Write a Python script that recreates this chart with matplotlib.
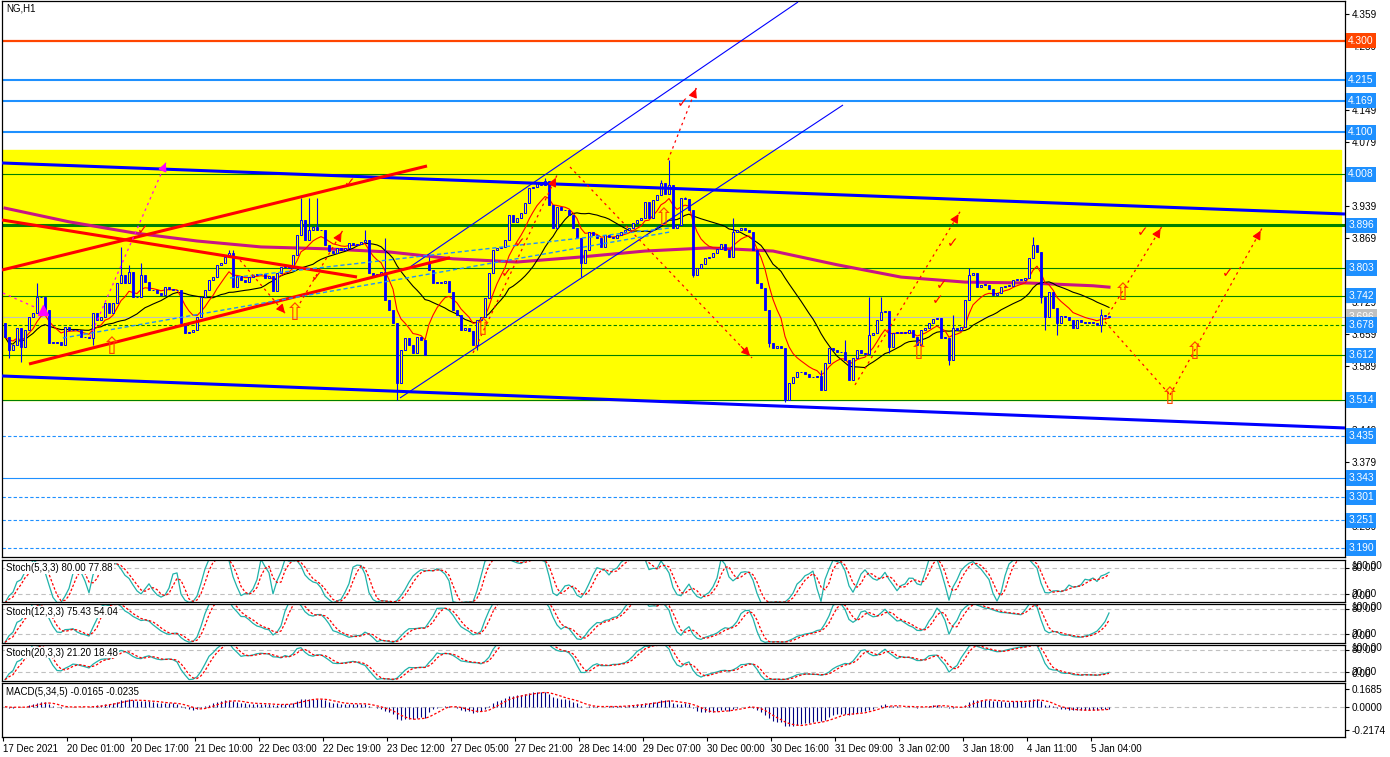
import numpy as np
import pandas as pd
import matplotlib
matplotlib.use("Agg")
import matplotlib.pyplot as plt
from matplotlib.patches import Rectangle

plt.rcParams['font.family'] = ['Liberation Sans', 'DejaVu Sans']

W, H = 1390, 757

# ---- price data (NG, H1) ----
close = [
    3.652, 3.623, 3.634, 3.672, 3.630, 3.667, 3.696, 3.704, 3.739, 3.739,
    3.711, 3.639, 3.639, 3.641, 3.634, 3.674, 3.667, 3.667, 3.667, 3.652,
    3.652, 3.650, 3.704, 3.689, 3.696, 3.726, 3.704, 3.726, 3.770, 3.788,
    3.770, 3.794, 3.739, 3.739, 3.788, 3.772, 3.755, 3.755, 3.748, 3.744,
    3.761, 3.757, 3.755, 3.755, 3.683, 3.661, 3.663, 3.667, 3.696, 3.739,
    3.755, 3.777, 3.783, 3.810, 3.814, 3.827, 3.836, 3.761, 3.785, 3.777,
    3.772, 3.783, 3.788, 3.790, 3.790, 3.781, 3.785, 3.753, 3.792, 3.805,
    3.810, 3.803, 3.831, 3.875, 3.908, 3.864, 3.886, 3.893, 3.886, 3.886,
    3.853, 3.840, 3.836, 3.847, 3.842, 3.847, 3.858, 3.853, 3.855, 3.860,
    3.864, 3.792, 3.785, 3.790, 3.794, 3.733, 3.711, 3.683, 3.551, 3.623,
    3.650, 3.634, 3.617, 3.652, 3.645, 3.612, 3.799, 3.770, 3.772, 3.770,
    3.774, 3.750, 3.711, 3.700, 3.667, 3.672, 3.665, 3.634, 3.689, 3.696,
    3.737, 3.792, 3.842, 3.847, 3.849, 3.864, 3.919, 3.904, 3.912, 3.923,
    3.945, 3.978, 3.980, 3.989, 3.985, 3.993, 3.941, 3.891, 3.936, 3.930,
    3.930, 3.919, 3.891, 3.869, 3.814, 3.842, 3.882, 3.875, 3.869, 3.849,
    3.875, 3.871, 3.869, 3.875, 3.882, 3.886, 3.891, 3.901, 3.908, 3.912,
    3.947, 3.912, 3.952, 3.963, 3.989, 3.965, 3.985, 3.891, 3.897, 3.956,
    3.954, 3.930, 3.788, 3.803, 3.812, 3.825, 3.827, 3.836, 3.845, 3.855,
    3.842, 3.827, 3.882, 3.886, 3.891, 3.886, 3.882, 3.842, 3.770, 3.759,
    3.711, 3.639, 3.628, 3.632, 3.628, 3.514, 3.551, 3.564, 3.575, 3.575,
    3.571, 3.564, 3.564, 3.566, 3.536, 3.595, 3.628, 3.623, 3.619, 3.619,
    3.601, 3.558, 3.606, 3.623, 3.617, 3.615, 3.656, 3.661, 3.689, 3.707,
    3.709, 3.630, 3.661, 3.661, 3.661, 3.661, 3.667, 3.652, 3.634, 3.667,
    3.672, 3.683, 3.691, 3.693, 3.650, 3.650, 3.601, 3.672, 3.667, 3.674,
    3.733, 3.788, 3.792, 3.761, 3.766, 3.766, 3.757, 3.744, 3.748, 3.761,
    3.764, 3.764, 3.777, 3.777, 3.777, 3.781, 3.825, 3.853, 3.838, 3.739,
    3.696, 3.750, 3.715, 3.683, 3.698, 3.696, 3.689, 3.672, 3.689, 3.685,
    3.683, 3.683, 3.683, 3.678, 3.700, 3.698, 3.696,
]
first_open = 3.683
open_gaps = {106: 3.815}
wick_high = {8: 3.770, 29: 3.849, 31: 3.810, 34: 3.814, 56: 3.842, 57: 3.842,
             74: 3.956, 76: 3.956, 78: 3.956, 90: 3.886, 95: 3.869, 106: 3.827,
             135: 3.999, 164: 3.996, 166: 4.039, 170: 3.958, 182: 3.912,
             204: 3.580, 210: 3.645, 216: 3.739, 219: 3.739, 237: 3.700,
             241: 3.803, 257: 3.871, 274: 3.713}
wick_low = {1: 3.606, 4: 3.597, 22: 3.634, 98: 3.514, 118: 3.623, 144: 3.783,
            172: 3.783, 188: 3.770, 191: 3.630, 195: 3.510, 221: 3.617,
            236: 3.590, 259: 3.726, 260: 3.667, 263: 3.656, 274: 3.663}

# slow (magenta) moving average, sampled every 16 bars
ma_long_bars = [0, 16, 32, 48, 64, 80, 96, 112, 128, 144, 160, 176, 192, 208, 224, 240, 256, 272, 276]
ma_long = [3.934, 3.904, 3.880, 3.862, 3.849, 3.845, 3.838, 3.823, 3.816, 3.827,
           3.840, 3.847, 3.840, 3.810, 3.783, 3.772, 3.770, 3.764, 3.761]

# horizontal levels and zone
levels = [4.300, 4.215, 4.169, 4.100, 4.008, 3.896, 3.803, 3.742, 3.696, 3.678,
          3.612, 3.514, 3.435, 3.343, 3.301, 3.251, 3.190]
zone = (3.514, 4.061)
price_ticks = [4.359, 4.289, 4.219, 4.149, 4.079, 4.009, 3.939, 3.869, 3.799, 3.729,
               3.659, 3.589, 3.519, 3.449, 3.379, 3.309, 3.239]

# trend lines (bar index, price)
channel_upper = [(-0.75, 4.0328), (335, 3.9211)]
channel_lower = [(-0.75, 3.5665), (335, 3.4527)]
thin_lower = [(98.75, 3.5184), (209.5, 4.1597)]
thin_upper = [(101.25, 3.8051), (198.25, 4.3852)]
red_up1 = [(-0.75, 3.7985), (105.5, 4.0262)]
red_up2 = [(6, 3.5927), (111.25, 3.8255)]
red_down = [(-0.75, 3.9080), (88, 3.7832)]
blue_dash1 = [(14.5, 3.6497), (166.25, 3.8817)]
blue_dash2 = [(56.25, 3.7811), (166.25, 3.8905)]

red_arrows = [((141.25, 4.024), (186.75, 3.606)), ((165.75, 4.039), (173.0, 4.201)),
              ((117.0, 3.617), (138.0, 4.006)), ((73.75, 3.726), (84.5, 3.886)),
              ((58.75, 3.820), (70.0, 3.704)), ((212.5, 3.547), (238.75, 3.926)),
              ((275.0, 3.689), (289.25, 3.894)), ((291.25, 3.525), (314.25, 3.890))]
red_dashes = [((275.0, 3.685), (291.25, 3.525))]
pink_arrow = ((21.25, 3.652), (40.5, 4.039))
pink_dash = ((-0.5, 3.748), (7.5, 3.717))
checks = [(86.25, 3.989), (34.5, 3.886), (78.0, 3.783), (169.5, 4.164), (128.75, 3.857),
          (125.5, 3.792), (237.0, 3.857), (234.25, 3.766), (233.25, 3.733),
          (284.5, 3.882), (305.75, 3.792)]
up_marks = [(26.75, 3.630), (72.5, 3.704), (119.5, 3.671), (164.75, 3.912),
            (228.5, 3.619), (279.5, 3.748), (297.5, 3.619), (291.25, 3.520)]

time_labels = ["17 Dec 2021", "20 Dec 01:00", "20 Dec 17:00", "21 Dec 10:00", "22 Dec 03:00",
               "22 Dec 19:00", "23 Dec 12:00", "27 Dec 05:00", "27 Dec 21:00", "28 Dec 14:00",
               "29 Dec 07:00", "30 Dec 00:00", "30 Dec 16:00", "31 Dec 09:00", "3 Jan 02:00",
               "3 Jan 18:00", "4 Jan 11:00", "5 Jan 04:00"]
stoch_titles = ["Stoch(5,3,3) 80.00 77.88", "Stoch(12,3,3) 75.43 54.04", "Stoch(20,3,3) 21.20 18.48"]
macd_title = "MACD(5,34,5) -0.0165 -0.0235"

# ---- build OHLC ----
c = np.array(close)
n = len(c)
x = np.arange(n)
o = np.r_[first_open, c[:-1]]
for i, v in open_gaps.items():
    o[i] = v
hi = np.maximum(o, c)
lo = np.minimum(o, c)
for i, v in wick_high.items():
    hi[i] = max(hi[i], v)
for i, v in wick_low.items():
    lo[i] = min(lo[i], v)

cs = pd.Series(c)
hs = pd.Series(hi)
ls = pd.Series(lo)
ma_fast = cs.ewm(span=8, adjust=False).mean()
ma_mid = cs.rolling(21, min_periods=1).mean()


def stoch(k, d, s):
    ll = ls.rolling(k, min_periods=1).min()
    hh = hs.rolling(k, min_periods=1).max()
    num = (cs - ll).rolling(s, min_periods=1).sum()
    den = (hh - ll).rolling(s, min_periods=1).sum().replace(0, np.nan)
    main = (100 * num / den).fillna(50)
    return main, main.rolling(d, min_periods=1).mean()


macd = cs.ewm(span=5, adjust=False).mean() - cs.ewm(span=34, adjust=False).mean()
macd_sig = macd.rolling(5, min_periods=1).mean()

# ---- figure ----
fig = plt.figure(figsize=(W / 100, H / 100), dpi=100)
fig.patch.set_facecolor("white")
FS = 7.0


def panel(top, bottom):
    ax = fig.add_axes([2 / W, 1 - bottom / H, 1343 / W, (bottom - top) / H])
    ax.set_xlim(-0.75, 335)
    ax.set_xticks([])
    for s in ax.spines.values():
        s.set_color("black")
        s.set_linewidth(0.9)
    ax.yaxis.tick_right()
    ax.tick_params(axis="y", direction="out", length=3, labelsize=7.2, pad=2)
    return ax


ax = panel(1, 557)
ax.set_ylim(3.1702, 4.3874)
ax.set_yticks(price_ticks)
ax.set_yticklabels([f"{t:.3f}" for t in price_ticks])

ax.add_patch(Rectangle((-0.75, zone[0]), 334.75, zone[1] - zone[0], color="yellow", zorder=0))

level_style = [("#FF4500", "-", 1.6), ("#1E90FF", "-", 1.5), ("#1E90FF", "-", 1.5), ("#1E90FF", "-", 1.5),
               ("green", "-", 0.8), ("green", "-", 2.2), ("green", "-", 0.8), ("green", "-", 0.8),
               ("#C0C0C0", "-", 0.8), ("green", (0, (3, 2)), 0.8), ("green", "-", 0.8), ("green", "-", 0.8),
               ("#1E90FF", (0, (3, 2)), 0.8), ("#1E90FF", "-", 0.8), ("#1E90FF", (0, (3, 2)), 0.8),
               ("#1E90FF", (0, (3, 2)), 0.8), ("#1E90FF", (0, (3, 2)), 0.8)]
tag_bg = {4.300: "#FF4500", 3.696: "#C0C0C0"}
for lv, (col, ls_, lw) in zip(levels, level_style):
    ax.axhline(lv, color=col, ls=ls_, lw=lw, zorder=1)
    ax.text(1.0024, lv, f"{lv:.3f}", transform=ax.get_yaxis_transform(), color="white",
            fontsize=7.4, va="center", ha="left", clip_on=False, zorder=10,
            bbox=dict(boxstyle="square,pad=0.25", fc=tag_bg.get(lv, "#1E90FF"), ec="none"))

# moving averages
ax.plot(ma_long_bars, ma_long, color="#C71585", lw=2.2, zorder=2)
ax.plot(x, ma_mid, color="black", lw=0.8, zorder=2)
ax.plot(x, ma_fast, color="red", lw=0.8, zorder=2)

# candles
ax.vlines(x, lo, hi, color="blue", lw=0.8, zorder=3)
bear = c < o
ax.bar(x[bear], (o - c)[bear], bottom=c[bear], width=0.72, color="blue", edgecolor="blue", lw=0.6, zorder=4)
ax.bar(x[~bear], np.maximum(c - o, 0.0008)[~bear], bottom=o[~bear], width=0.72, facecolor="yellow",
       edgecolor="blue", lw=0.7, zorder=4)

# trend lines
for ln, col, lw, ls_ in [(channel_upper, "blue", 2.2, "-"), (channel_lower, "blue", 2.2, "-"),
                         (thin_lower, "blue", 0.8, "-"), (thin_upper, "blue", 0.8, "-"),
                         (red_up1, "red", 2.2, "-"), (red_up2, "red", 2.2, "-"), (red_down, "red", 2.2, "-"),
                         (blue_dash1, "#1E90FF", 1.0, (0, (3, 2))), (blue_dash2, "#1E90FF", 1.0, (0, (3, 2)))]:
    xs, ys = zip(*ln)
    ax.plot(xs, ys, color=col, lw=lw, ls=ls_, zorder=5, solid_capstyle="butt")


def dashed_arrow(p0, p1, col, head=True):
    ax.plot([p0[0], p1[0]], [p0[1], p1[1]], color=col, lw=0.9, ls=(0, (2, 3)), zorder=6)
    if head:
        q = (p0[0] + 0.93 * (p1[0] - p0[0]), p0[1] + 0.93 * (p1[1] - p0[1]))
        ax.annotate("", xy=p1, xytext=q, zorder=6,
                    arrowprops=dict(arrowstyle="-|>", color=col, lw=0.8, mutation_scale=13))


for p0, p1 in red_arrows:
    dashed_arrow(p0, p1, "red")
for p0, p1 in red_dashes:
    dashed_arrow(p0, p1, "red", head=False)
dashed_arrow(*pink_arrow, "#FF00FF")
dashed_arrow(*pink_dash, "#FF00FF", head=False)
ax.plot([9.5], [3.711], marker="^", color="#FF00FF", ms=7, zorder=6)

for bx, by in checks:
    ax.text(bx, by, "\u2713", color="red", fontsize=10, ha="center", va="center", zorder=6,
            family=["DejaVu Sans"])
for bx, by in up_marks:
    ax.text(bx, by, "\u21e7", color="#FF4500", fontsize=17, ha="center", va="center", zorder=6,
            family=["DejaVu Sans"])

ax.text(0.003, 0.995, "NG,H1", transform=ax.transAxes, fontsize=FS, va="top", ha="left")

# stochastic panels
stoch_params = [(5, 3, 3), (12, 3, 3), (20, 3, 3)]
stoch_boxes = [(560, 602, (1.6, 98.4)), (604, 643, (-1.6, 92)), (645, 681, (-3.5, 93))]
for (k, d, s), (top, bot, ylim), title in zip(stoch_params, stoch_boxes, stoch_titles):
    sax = panel(top, bot)
    sax.set_ylim(*ylim)
    main, sig = stoch(k, d, s)
    for lv in (20, 80):
        sax.axhline(lv, color="#C0C0C0", ls=(0, (4, 3)), lw=0.8)
    sax.plot(x, main, color="#20B2AA", lw=0.9)
    sax.plot(x, sig, color="red", lw=0.9, ls=(0, (2, 1.5)))
    sax.set_yticks([20, 80])
    sax.set_yticklabels(["", ""])
    tr = sax.get_yaxis_transform()
    for val, yy in ((100, 84), (80, 80), (20, 20), (0, 16)):
        sax.text(1.005, yy, f"{val:.2f}", transform=tr, fontsize=7.2, va="center", ha="left", clip_on=False)
    sax.text(0.003, 0.93, title, transform=sax.transAxes, fontsize=FS, va="top", ha="left",
             bbox=dict(boxstyle="square,pad=0.1", fc="white", ec="none"), zorder=10)

# MACD panel
mx = panel(683, 737)
mx.set_ylim(-0.286, 0.2236)
mx.axhline(0, color="#C0C0C0", ls=(0, (4, 3)), lw=0.8)
mx.vlines(x, 0, macd, color="#000080", lw=0.8)
mx.plot(x, macd_sig, color="red", lw=0.9, ls=(0, (2, 1.5)))
mx.set_yticks([0.1685, 0.0, -0.2174])
mx.set_yticklabels(["0.1685", "0.0000", "-0.2174"])
mx.text(0.003, 0.93, macd_title, transform=mx.transAxes, fontsize=FS, va="top", ha="left",
        bbox=dict(boxstyle="square,pad=0.1", fc="white", ec="none"), zorder=10)
mx.set_xticks(np.arange(len(time_labels)) * 16 - 0.5)
mx.set_xticklabels(time_labels)
mx.tick_params(axis="x", direction="out", length=3, labelsize=FS, pad=2)
for lab in mx.get_xticklabels():
    lab.set_ha("left")

fig.savefig("out.png", dpi=100, facecolor="white")
